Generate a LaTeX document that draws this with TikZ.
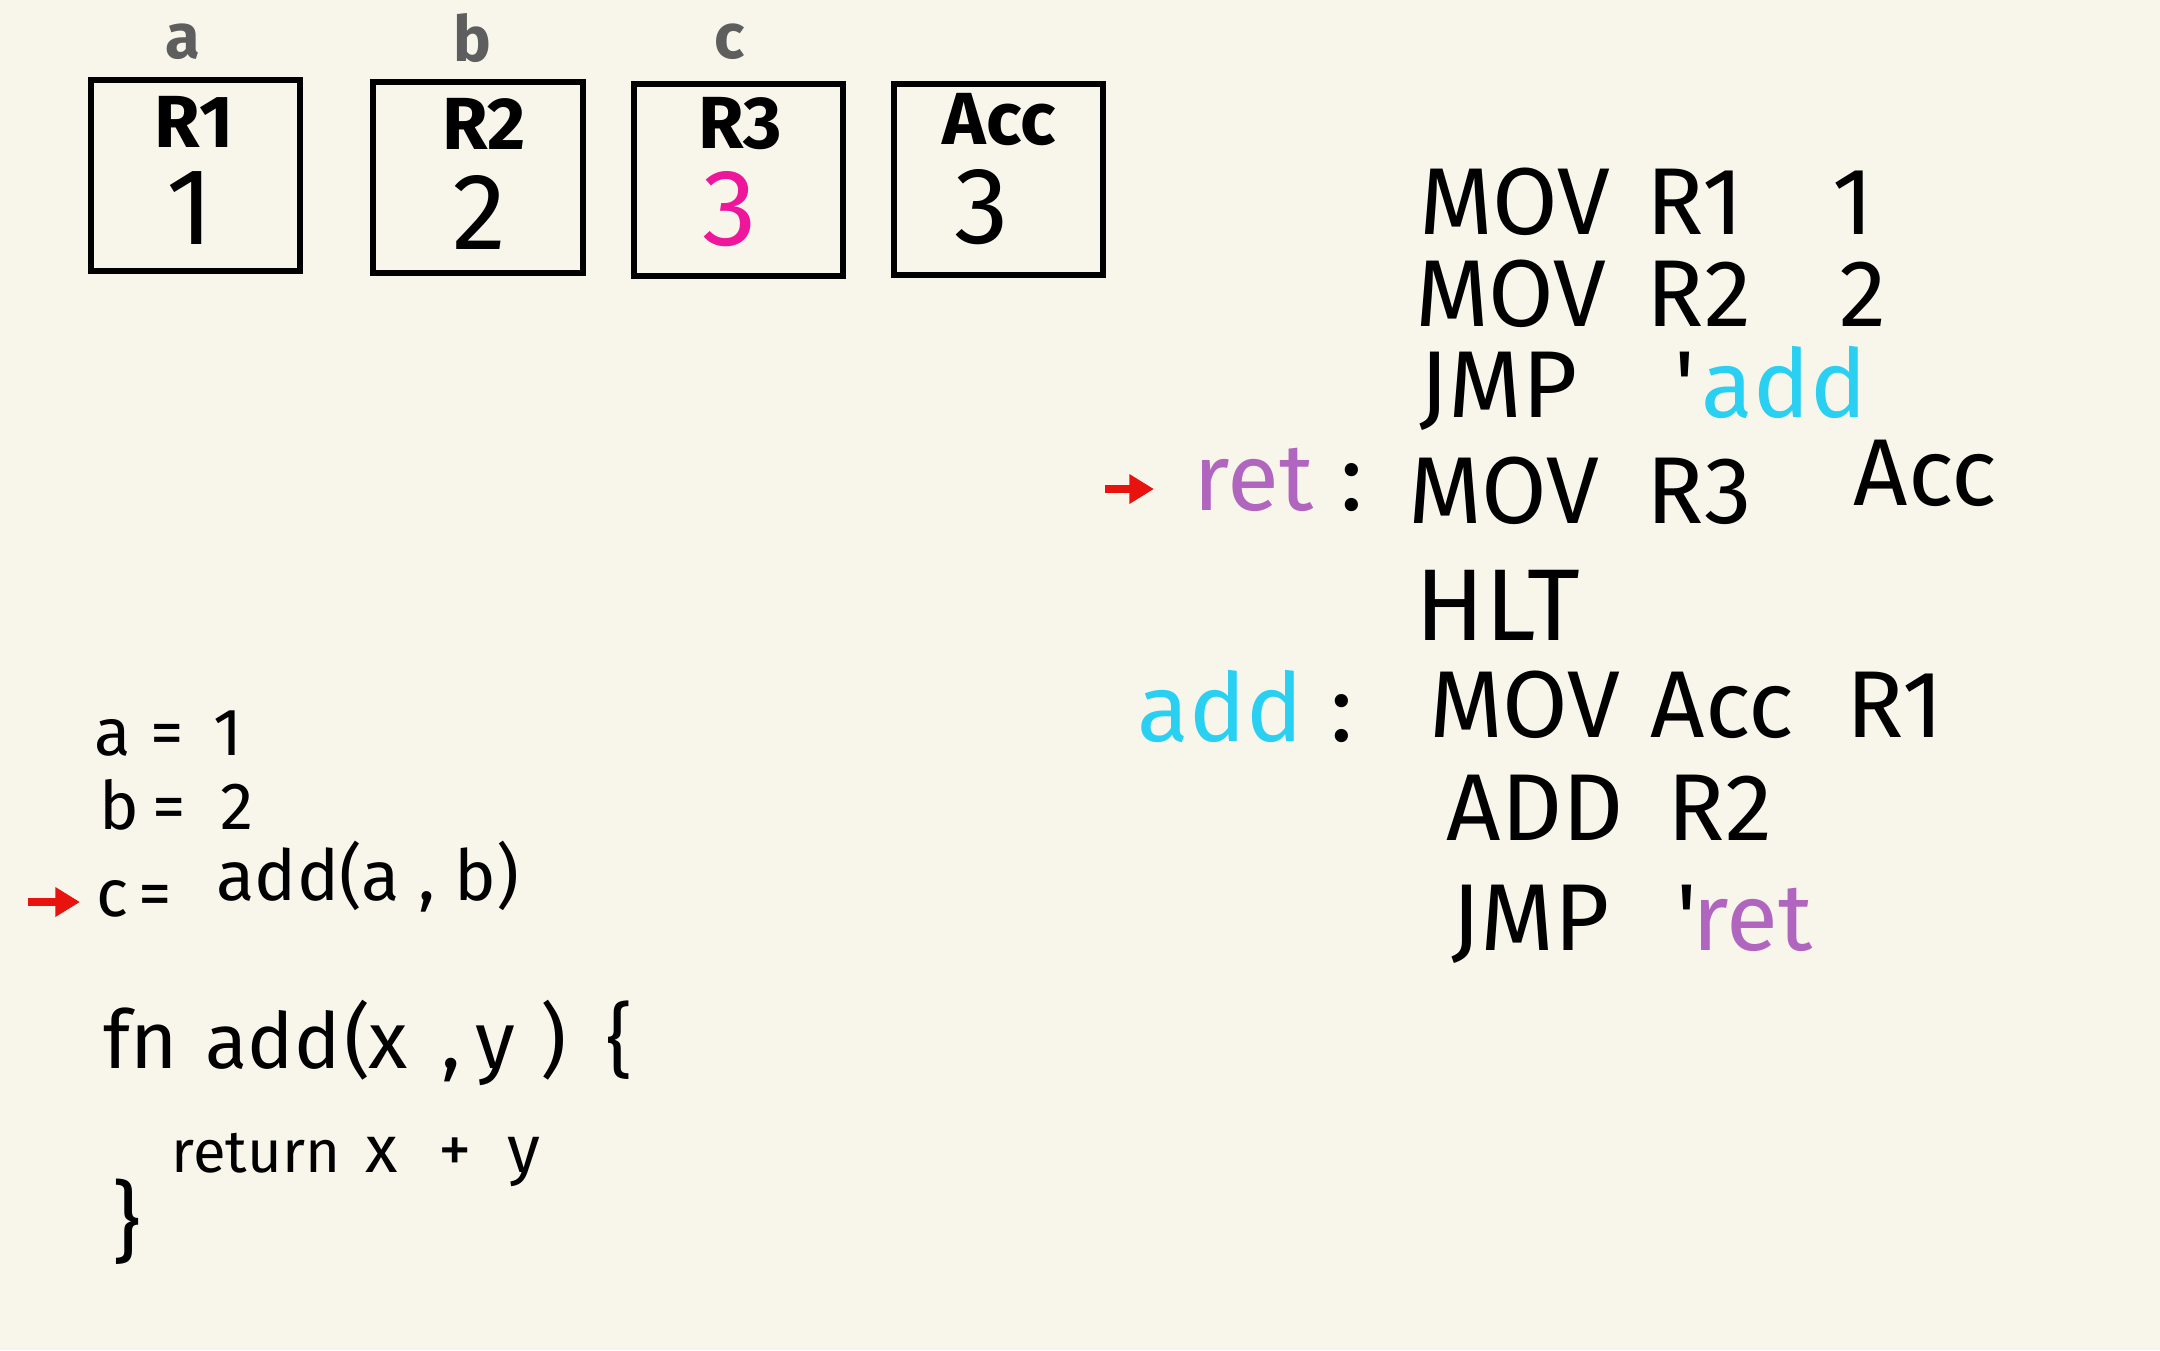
\documentclass[tikz,border=0pt]{standalone}
\usepackage{fontspec}
\setmainfont{Fira Sans}
\usetikzlibrary{arrows.meta}
\definecolor{paper}{HTML}{F8F6EA}
\definecolor{lblgray}{HTML}{5E5E5E}
\definecolor{hotpink}{HTML}{EE169A}
\definecolor{addcyan}{HTML}{2AD0F2}
\definecolor{retpurple}{HTML}{B066BE}
\definecolor{arrowred}{HTML}{E8120E}
\tikzset{
  regbox/.style={draw=black, line width=1.7pt, minimum width=2.09cm, minimum height=1.91cm, inner sep=0},
  reglbl/.style={font=\fontsize{21}{24}\selectfont\bfseries, inner sep=0, anchor=center},
  regval/.style={font=\fontsize{31}{34}\selectfont, inner sep=0, anchor=center},
  varlbl/.style={font=\fontsize{18}{20}\selectfont\bfseries, text=lblgray, inner sep=0, anchor=base},
  asm/.style={font=\fontsize{27}{30}\selectfont, inner sep=0, anchor=base west},
  code/.style={font=\fontsize{19}{22}\selectfont, inner sep=0, anchor=base west},
  bigcode/.style={font=\fontsize{23}{26}\selectfont, inner sep=0, anchor=base west},
  redarrow/.style={draw=arrowred, line width=2.2pt, -{Triangle[length=7pt,width=8pt]}}
}
\begin{document}
\begin{tikzpicture}[x=0.01cm, y=-0.01cm]
\fill[paper] (0,0) rectangle (2160,1350);
\useasboundingbox (0,0) rectangle (2160,1350);

% register boxes
\node[regbox] (boxR1) at (195.5,175.5) {};
\node[regbox] (boxR2) at (478,177.5) {};
\node[regbox] (boxR3) at (738.5,180) {};
\node[regbox] (boxAcc) at (998.5,179.5) {};
\node[reglbl] (lR1) at (194,122) {R1};
\node[regval] (vR1) at (190,208) {1};
\node[reglbl] (lR2) at (484,124) {R2};
\node[regval] (vR2) at (479,212) {2};
\node[reglbl] (lR3) at (740,124) {R3};
\node[regval, text=hotpink] (vR3) at (730,209) {3};
\node[reglbl] (lAcc) at (999,120) {Acc};
\node[regval] (vAcc) at (982,207) {3};
\node[varlbl] (va) at (183,58) {a};
\node[varlbl] (vb) at (472,61) {b};
\node[varlbl] (vc) at (730,58) {c};

% assembly listing
\node[asm] (m1) at (1419,234) {MOV};
\node[asm] (m1r) at (1646,234) {R1};
\node[asm] (m1v) at (1832,234) {1};
\node[asm] (m2) at (1415,326) {MOV};
\node[asm] (m2r) at (1646,326) {R2};
\node[asm] (m2v) at (1839,326) {2};
\node[asm] (j1) at (1419,417) {JMP};
\node[asm] (j1q) at (1674,417) {\textquotesingle};
\node[asm, text=addcyan] (j1t) at (1701,417) {add};
\node[asm, text=retpurple] (ret) at (1193,510) {ret};
\node[asm] (retc) at (1340,510) {:};
\node[asm] (m3) at (1408,523) {MOV};
\node[asm] (m3r) at (1646,523) {R3};
\node[asm] (m3v) at (1853,505) {Acc};
\node[asm, font=\fontsize{29}{32}\selectfont] (hlt) at (1415,640) {HLT};
\node[asm, text=addcyan] (addl) at (1137,741) {add};
\node[asm] (addc) at (1330,741) {:};
\node[asm] (m4) at (1429,737) {MOV};
\node[asm] (m4a) at (1650,737) {Acc};
\node[asm] (m4r) at (1846,737) {R1};
\node[asm] (ad) at (1446,840) {ADD};
\node[asm] (adr) at (1667,840) {R2};
\node[asm] (j2) at (1451,950) {JMP};
\node[asm] (j2q) at (1676,950) {\textquotesingle};
\node[asm, text=retpurple] (j2t) at (1692,950) {ret};

\coordinate (ra1) at (1105,489);
\draw[redarrow] (ra1) -- ([xshift=-0.39cm]ret.west |- ra1);

% source code
\node[code] (ca) at (94,755) {a};
\node[code] (ceq1) at (150,755) {=};
\node[code] (c1) at (213,755) {1};
\node[code] (cb) at (99,829) {b};
\node[code] (ceq2) at (152,829) {=};
\node[code] (c2) at (220,829) {2};
\node[code] (cc) at (96,916) {c};
\node[code] (ceq3) at (138,916) {=};
\node[code, font=\fontsize{20}{22}\selectfont] (ccall) at (216,900) {add(a , b)};
\coordinate (ra2) at (28,902);
\draw[redarrow] (ra2) -- ([xshift=-0.16cm]cc.west |- ra2);

\node[bigcode] (fnk) at (103,1068) {fn};
\node[bigcode, font=\fontsize{22}{26}\selectfont] (fnn) at (205,1068) {add};
\node[bigcode] (fnl) at (344,1068) {(};
\node[bigcode] (fnx) at (368,1068) {x};
\node[bigcode] (fnc) at (441,1068) {,};
\node[bigcode] (fny) at (475,1068) {y};
\node[bigcode] (fnr) at (540,1068) {)};
\node[bigcode] (fnb) at (606,1068) {\{};
\node[code, font=\fontsize{17}{22}\selectfont] (retn) at (171,1172) {return};
\node[code] (rx) at (365,1172) {x};
\node[code] (rp) at (438,1172) {+};
\node[code] (ry) at (507,1172) {y};
\node[bigcode, font=\fontsize{25}{28}\selectfont] (cbr) at (112,1252) {\}};
\end{tikzpicture}
\end{document}
